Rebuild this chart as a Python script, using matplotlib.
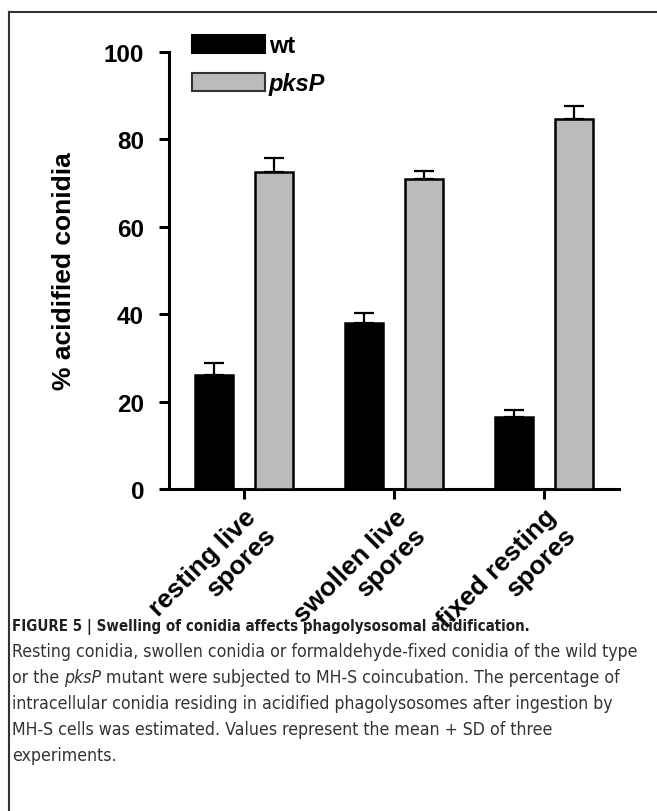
import matplotlib
matplotlib.use("Agg")
import matplotlib.pyplot as plt
import matplotlib.transforms as mtransforms
from matplotlib import font_manager
from matplotlib.patches import Patch
import numpy as np

### data ###
groups = ["resting live\nspores", "swollen live\nspores", "fixed resting\nspores"]
wt_mean = [26.0, 38.1, 16.4]
wt_sd = [2.8, 2.2, 1.6]
pksp_mean = [72.5, 70.9, 84.6]
pksp_sd = [3.2, 1.9, 3.0]
yticks = [0, 20, 40, 60, 80, 100]

caption_title = "FIGURE 5 | Swelling of conidia affects phagolysosomal acidification."
caption_lines = [
    "Resting conidia, swollen conidia or formaldehyde-fixed conidia of the wild type",
    ("or the ", "pksP", " mutant were subjected to MH-S coincubation. The percentage of"),
    "intracellular conidia residing in acidified phagolysosomes after ingestion by",
    "MH-S cells was estimated. Values represent the mean + SD of three",
    "experiments.",
]

plt.rcParams["font.family"] = ["Liberation Sans", "DejaVu Sans"]

# caption font: condensed face if there is one
cap_font = dict(family="Liberation Sans")
fp = font_manager.FontProperties(family="DejaVu Sans", stretch="condensed")
if "Condensed" in font_manager.findfont(fp, fallback_to_default=True):
    cap_font = dict(family="DejaVu Sans", stretch="condensed")

W, H = 657, 812
fig = plt.figure(figsize=(W / 100, H / 100), dpi=100)

### frame (top + left edge of the figure box) ###
fig.add_artist(plt.Line2D([9 / W, 9 / W], [0, 1 - 13 / H], color="#333333", lw=1.5))
fig.add_artist(plt.Line2D([9 / W, 1], [1 - 13 / H, 1 - 13 / H], color="#333333", lw=1.5))

### axes ###
ax = fig.add_axes([169 / W, 1 - 490 / H, (619 - 169) / W, (490 - 53) / H])
x = np.arange(len(groups))
bw = 0.25
off = 0.2
ekw = dict(lw=1.6, capsize=7, capthick=1.6, ecolor="black")
ax.bar(x - off, wt_mean, bw, color="black", edgecolor="black", lw=1.8,
       yerr=[np.zeros(3), wt_sd], error_kw=ekw, zorder=3)
ax.bar(x + off, pksp_mean, bw, color="#bbbbbb", edgecolor="black", lw=1.8,
       yerr=[np.zeros(3), pksp_sd], error_kw=ekw, zorder=3)

ax.set_xlim(-0.5, 2.5)
ax.set_ylim(0, 100)
ax.set_yticks(yticks)
ax.set_yticklabels([str(v) for v in yticks], fontsize=17.5, fontweight="bold")
ax.set_xticks(x)
ax.set_xticklabels(groups, fontsize=19, fontweight="bold", rotation=45,
                   ha="right", va="top", rotation_mode="anchor",
                   multialignment="right", linespacing=1.15)
shift = mtransforms.ScaledTranslation(12 / 100, 0 / 100, fig.dpi_scale_trans)
for lab in ax.get_xticklabels():
    lab.set_transform(lab.get_transform() + shift)
for s in ["top", "right"]:
    ax.spines[s].set_visible(False)
for s in ["left", "bottom"]:
    ax.spines[s].set_linewidth(2.2)
ax.tick_params(axis="y", width=2.2, length=7, pad=11)
ax.tick_params(axis="x", width=2.2, length=7, pad=4)
ax.set_ylabel("% acidified conidia", fontsize=19, fontweight="bold", labelpad=20)

### legend ###
handles = [Patch(facecolor="black", edgecolor="black", lw=1.5),
           Patch(facecolor="#bbbbbb", edgecolor="#333333", lw=1.5)]
leg = fig.legend(handles, ["wt", "pksP"], loc="upper left",
                 bbox_to_anchor=(192 / W, 1 - 35 / H), frameon=False,
                 fontsize=17, handlelength=3.1, handleheight=0.8,
                 handletextpad=0.15, labelspacing=0.65, borderpad=0,
                 borderaxespad=0)
for t in leg.get_texts():
    t.set_fontweight("bold")
leg.get_texts()[1].set_style("italic")

### caption ###
x0 = 12 / W
renderer = fig.canvas.get_renderer()


def fit_size(text, width, **kw):
    probe = fig.text(x0, 0.5, text, fontsize=14, **kw)
    size = 14 * width / probe.get_window_extent(renderer).width
    probe.remove()
    return size


fs = fit_size(caption_lines[0], 628, **cap_font)
fs_title = fit_size(caption_title, 520, fontweight="bold", **cap_font)

fig.text(x0, 1 - 627 / H, caption_title, fontweight="bold", fontsize=fs_title,
         color="#231f20", va="center", **cap_font)
ys = [652, 678, 704, 730, 756]
for y, line in zip(ys, caption_lines):
    if isinstance(line, str):
        fig.text(x0, 1 - y / H, line, fontsize=fs, color="#333333",
                 va="center", **cap_font)
    else:
        t1 = fig.text(x0, 1 - y / H, line[0], fontsize=fs, color="#333333",
                      va="center", **cap_font)
        t2 = ax.annotate(line[1], xy=(1, 0), xycoords=t1, va="bottom", ha="left",
                         fontsize=fs, style="italic", color="#333333",
                         annotation_clip=False, **cap_font)
        ax.annotate(line[2], xy=(1, 0), xycoords=t2, va="bottom", ha="left",
                    fontsize=fs, color="#333333", annotation_clip=False,
                    **cap_font)

fig.savefig("out.png", dpi=100)
